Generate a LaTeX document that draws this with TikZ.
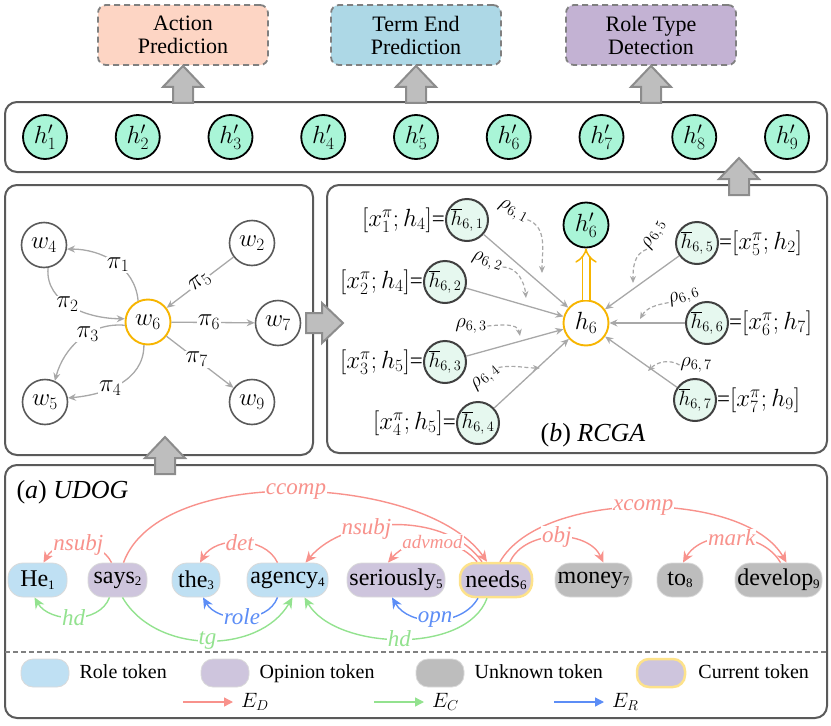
\documentclass[tikz,border=0pt]{standalone}
\usepackage{fontspec}
\setmainfont{Liberation Serif}
\usepackage{xcolor}
\usetikzlibrary{arrows.meta,positioning,calc}

\definecolor{actfill}{HTML}{FDD5C4}
\definecolor{termfill}{HTML}{ADD8E6}
\definecolor{typefill}{HTML}{C3B2D3}
\definecolor{mint}{HTML}{A9F5D7}
\definecolor{palemint}{HTML}{E6F8EF}
\definecolor{framegray}{HTML}{5A5A5A}
\definecolor{dashgray}{HTML}{808080}
\definecolor{edgegray}{HTML}{A8A8A8}
\definecolor{arrowfill}{HTML}{BEBEBE}
\definecolor{arrowdraw}{HTML}{8C8C8C}
\definecolor{curorange}{HTML}{F7B500}
\definecolor{depred}{HTML}{F8928C}
\definecolor{congreen}{HTML}{93E28F}
\definecolor{relblue}{HTML}{5C8DF6}
\definecolor{roletok}{HTML}{BFE0F3}
\definecolor{opintok}{HTML}{CEC5DD}
\definecolor{unktok}{HTML}{BDBDBD}
\definecolor{curedge}{HTML}{FDE28B}
\definecolor{tokedge}{HTML}{DADADA}

\newcommand{\fsz}[1]{\fontsize{#1}{#1}\selectfont}
\newcommand{\tsub}[1]{\raisebox{-2.5pt}{\fsz{13}#1}}
% big grey arrow, tip at #1, pointing at angle #2
\newcommand{\blockarrow}[2]{%
  \draw[fill=arrowfill, draw=arrowdraw, line width=2pt, shift={(#1)}, rotate=#2]
    (0,0) -- (-21,-20) -- (-21,-10) -- (-37,-10) -- (-37,10) -- (-21,10) -- (-21,20) -- cycle;}

\begin{document}
\begin{tikzpicture}[x=1pt, y=-1pt,
    panel/.style={draw=framegray, line width=2pt, rounded corners=12pt},
    taskbox/.style={draw=dashgray, dashed, dash pattern=on 6pt off 4pt, line width=1.8pt, rounded corners=8pt,
      minimum width=170pt, minimum height=60pt, align=center, font=\fontsize{22}{23}\selectfont},
    hpnode/.style={circle, draw=black, line width=1.8pt, fill=mint, minimum size=44pt, inner sep=0pt, font=\fsz{24}},
    wnode/.style={circle, draw=framegray, line width=1.6pt, fill=white, minimum size=45pt, inner sep=0pt, font=\fsz{25}},
    hbnode/.style={circle, draw=black!75, line width=2pt, fill=palemint, minimum size=42pt, inner sep=0pt, font=\fsz{21}},
    eqlab/.style={inner sep=0pt, font=\fsz{23}},
    gedge/.style={draw=edgegray, line width=1.3pt, -{Stealth[length=8pt, width=7pt]}},
    pilab/.style={fill=white, inner sep=1pt, font=\fsz{25}},
    rholab/.style={inner sep=0.5pt, font=\fsz{20}},
    rhoedge/.style={draw=edgegray, dashed, dash pattern=on 4pt off 2.5pt, line width=1.2pt, -{Stealth[length=7pt, width=6pt]}},
    tok/.style={draw=tokedge, line width=0.8pt, rounded corners=15pt, minimum height=34pt, inner sep=0pt, font=\fsz{24}},
    arc/.style={line width=1.4pt, -{Stealth[length=11pt, width=10pt]}},
    arclab/.style={fill=white, inner sep=1pt, font=\itshape\fsz{23}},
    legblob/.style={draw=tokedge, line width=0.8pt, rounded corners=12pt, minimum width=48pt, minimum height=28pt},
    legtext/.style={inner sep=0pt, text height=14pt, text depth=4pt, font=\fsz{20}},
    legarrow/.style={line width=1.4pt, -{Triangle[length=9pt, width=9pt]}}]

\useasboundingbox (0,0) rectangle (831,726);

% panels
\node[panel, minimum width=822pt, minimum height=70pt] (hrow) at (416,137) {};
\node[panel, minimum width=308pt, minimum height=270pt] (graph) at (159,320) {};
\node[panel, minimum width=500pt, minimum height=268pt] (rcgabox) at (577,319) {};
\node[panel, minimum width=822pt, minimum height=253pt] (udog) at (416,591.5) {};

% task heads
\node[taskbox, fill=actfill] (act) at (183,35) {Action\\Prediction};
\node[taskbox, fill=termfill] (term) at (416,35) {Term End\\Prediction};
\node[taskbox, fill=typefill] (rtype) at (651,35) {Role Type\\Detection};

\foreach \i in {1,...,9}
  \node[hpnode] (hp\i) at ({45+92.75*(\i-1)},137) {$h'_{\i}$};

\blockarrow{act.south}{90}
\blockarrow{term.south}{90}
\blockarrow{rtype.south}{90}
\blockarrow{739,158}{90}
\blockarrow{343,323}{0}
\blockarrow{165,437}{90}

% left graph
\node[wnode] (w4) at (44,245) {$w_4$};
\node[wnode] (w2) at (252,243) {$w_2$};
\node[wnode, draw=curorange, line width=1.9pt] (w6) at (148,322) {$w_6$};
\node[wnode] (w7) at (278,323) {$w_7$};
\node[wnode] (w5) at (45,402) {$w_5$};
\node[wnode] (w9) at (252,402) {$w_9$};

\draw[gedge] (w6.115) to[out=95, in=0] node[pilab, pos=0.45] {$\pi_1$} (w4.-10);
\draw[gedge] (w4.-80) to[out=-95, in=180] node[pilab, pos=0.45] {$\pi_2$} (w6.172);
\draw[gedge] (w6.188) to[out=175, in=75] node[pilab, pos=0.4] {$\pi_3$} (w5.65);
\draw[gedge] (w6.-100) to[out=-90, in=5] node[pilab, pos=0.6] {$\pi_4$} (w5.10);
\draw[gedge] (w2) -- node[pilab, sloped] {$\pi_5$} (w6);
\draw[gedge] (w6) -- node[pilab, pos=0.45] {$\pi_6$} (w7);
\draw[gedge] (w6) -- node[pilab, pos=0.45] {$\pi_7$} (w9);

% RCGA
\node[hpnode, minimum size=45pt] (hsixp) at (586,225) {$h'_6$};
\node[wnode, draw=curorange, line width=1.9pt, font=\fsz{24}] (h6) at (586,323) {$h_6$};
\draw[curorange, line width=1.5pt, double=white, double distance=6pt, -Implies] (h6) -- (hsixp);

\node[hbnode] (hb1) at (467,220) {$\overline{h}_{6,\,1}$};
\node[hbnode] (hb2) at (445,282) {$\overline{h}_{6,\,2}$};
\node[hbnode] (hb3) at (445,362) {$\overline{h}_{6,\,3}$};
\node[hbnode] (hb4) at (478,423) {$\overline{h}_{6,\,4}$};
\node[hbnode] (hb5) at (697,243) {$\overline{h}_{6,\,5}$};
\node[hbnode] (hb6) at (707,323) {$\overline{h}_{6,\,6}$};
\node[hbnode] (hb7) at (695,400) {$\overline{h}_{6,\,7}$};

\node[eqlab, left=0pt of hb1] (xb1) {$[x_1^{\pi};h_4]$=};
\node[eqlab, left=0pt of hb2] (xb2) {$[x_2^{\pi};h_4]$=};
\node[eqlab, left=0pt of hb3] (xb3) {$[x_3^{\pi};h_5]$=};
\node[eqlab, left=0pt of hb4] (xb4) {$[x_4^{\pi};h_5]$=};
\node[eqlab, right=0pt of hb5] (xb5) {=$[x_5^{\pi};h_2]$};
\node[eqlab, right=0pt of hb6] (xb6) {=$[x_6^{\pi};h_7]$};
\node[eqlab, right=0pt of hb7] (xb7) {=$[x_7^{\pi};h_9]$};

\foreach \i in {1,...,7}
  \draw[gedge] (hb\i) -- (h6);

\node[rholab, rotate=-28] (rho1) at (513,212) {$\rho_{6,\,1}$};
\node[rholab, rotate=-18] (rho2) at (487,262) {$\rho_{6,\,2}$};
\node[rholab] (rho3) at (471,326) {$\rho_{6,\,3}$};
\node[rholab, rotate=40] (rho4) at (486,378) {$\rho_{6,\,4}$};
\node[rholab, rotate=60] (rho5) at (655,235) {$\rho_{6,\,5}$};
\node[rholab, rotate=20] (rho6) at (684,297) {$\rho_{6,\,6}$};
\node[rholab] (rho7) at (696,365) {$\rho_{6,\,7}$};
\coordinate (r1) at (542,273);
\coordinate (r2) at (526,298);
\coordinate (r3) at (520,336);
\coordinate (r4) at (540,368);
\coordinate (r5) at (633,283);
\coordinate (r6) at (640,319);
\coordinate (r7) at (648,371);
\draw[rhoedge] (rho1.east) to[out=-20, in=90] (r1);
\draw[rhoedge] (rho2.east) to[out=0, in=95] (r2);
\draw[rhoedge] (rho3.east) to[out=5, in=100] (r3);
\draw[rhoedge] (rho4.east) to[out=10, in=180] (r4);
\draw[rhoedge] (rho5.west) to[out=200, in=90] (r5);
\draw[rhoedge] (rho6.west) to[out=190, in=60] (r6);
\draw[rhoedge] (rho7.west) to[out=150, in=45] (r7);

\node[font=\fsz{26}] (rcga) at (593,435) {(\textit{b}) \textit{RCGA}};

% UDOG
\node[anchor=west, font=\fsz{26}] (udogt) at (13,492) {(\textit{a}) \textit{UDOG}};

\node[tok, fill=roletok, minimum width=59pt] (he) at (37.5,580) {He\tsub{1}};
\node[tok, fill=opintok, minimum width=59pt] (says) at (117.5,580) {says\tsub{2}};
\node[tok, fill=roletok, minimum width=48pt] (the) at (196,580) {the\tsub{3}};
\node[tok, fill=roletok, minimum width=81pt] (agency) at (287.5,580) {agency\tsub{4}};
\node[tok, fill=opintok, minimum width=98pt] (seriously) at (396,580) {seriously\tsub{5}};
\node[tok, fill=opintok, draw=curedge, line width=2.5pt, minimum width=72pt] (needs) at (496,580) {needs\tsub{6}};
\node[tok, fill=unktok, minimum width=77pt] (money) at (593.5,580) {money\tsub{7}};
\node[tok, fill=unktok, minimum width=46pt] (to) at (680,580) {to\tsub{8}};
\node[tok, fill=unktok, minimum width=87pt] (develop) at (778.5,580) {develop\tsub{9}};

\draw[arc, depred] ([xshift=-6pt]says.north) to[out=115, in=60] node[arclab, text=depred] {nsubj} ([xshift=6pt]he.north);
\draw[arc, depred] ([xshift=6pt]says.north) to[out=70, in=125, looseness=0.75] node[arclab, text=depred] {ccomp} ([xshift=-9pt]needs.north);
\draw[arc, depred] ([xshift=-14pt]needs.north) to[out=125, in=50, looseness=0.9] node[arclab, text=depred, pos=0.64] {nsubj} ([xshift=18pt]agency.north);
\draw[arc, depred] ([xshift=-19pt]needs.north) to[out=130, in=50] node[arclab, text=depred, font=\itshape\fsz{19}] {advmod} ([xshift=-8pt]seriously.north);
\draw[arc, depred] ([xshift=-10pt]agency.north) to[out=115, in=60] node[arclab, text=depred] {det} ([xshift=4pt]the.north);
\draw[arc, depred] ([xshift=4pt]needs.north) to[out=60, in=120, looseness=0.75] node[arclab, text=depred] {xcomp} ([xshift=8pt]develop.north);
\draw[arc, depred] ([xshift=14pt]needs.north) to[out=65, in=115] node[arclab, text=depred] {obj} ([xshift=10pt]money.north);
\draw[arc, depred] ([xshift=2pt]develop.north) to[out=120, in=60] node[arclab, text=depred] {mark} ([xshift=3pt]to.north);

\draw[arc, congreen] ([xshift=-8pt]says.south) to[out=-110, in=-60] node[arclab, text=congreen] {hd} ([xshift=-3pt]he.south);
\draw[arc, relblue] ([xshift=-10pt]agency.south) to[out=-110, in=-60] node[arclab, text=relblue] {role} ([xshift=7pt]the.south);
\draw[arc, congreen] ([xshift=5pt]says.south) to[out=-60, in=-120] node[arclab, text=congreen] {tg} ([xshift=5pt]agency.south);
\draw[arc, congreen] ([xshift=-9pt]needs.south) to[out=-110, in=-60, looseness=0.85] node[arclab, text=congreen] {hd} ([xshift=17pt]agency.south);
\draw[arc, relblue] ([xshift=-18pt]needs.south) to[out=-120, in=-60] node[arclab, text=relblue] {opn} ([xshift=-4pt]seriously.south);

% legend
\draw[dashgray, dashed, dash pattern=on 5pt off 3pt, line width=1.5pt] (5,652) -- (827,652);
\node[legblob, fill=roletok] (lgrole) at (45,673) {};
\node[legtext, right=10pt of lgrole] (lgrolet) {Role token};
\node[legblob, fill=opintok] (lgopin) at (225,673) {};
\node[legtext, right=10pt of lgopin] (lgopint) {Opinion token};
\node[legblob, fill=unktok] (lgunk) at (440,673) {};
\node[legtext, right=10pt of lgunk] (lgunkt) {Unknown token};
\node[legblob, fill=opintok, draw=curedge, line width=2.5pt] (lgcur) at (661,673) {};
\node[legtext, right=12pt of lgcur] (lgcurt) {Current token};

\coordinate (ed0) at (183,702);
\coordinate (ed1) at (233,702);
\coordinate (ec0) at (374,702);
\coordinate (ec1) at (424,702);
\coordinate (er0) at (554,702);
\coordinate (er1) at (604,702);
\draw[legarrow, depred] (ed0) -- (ed1);
\draw[legarrow, congreen] (ec0) -- (ec1);
\draw[legarrow, relblue] (er0) -- (er1);
\node[legtext, right=8pt of ed1] (edt) {$E_D$};
\node[legtext, right=8pt of ec1] (ect) {$E_C$};
\node[legtext, right=8pt of er1] (ert) {$E_R$};
\end{tikzpicture}
\end{document}
